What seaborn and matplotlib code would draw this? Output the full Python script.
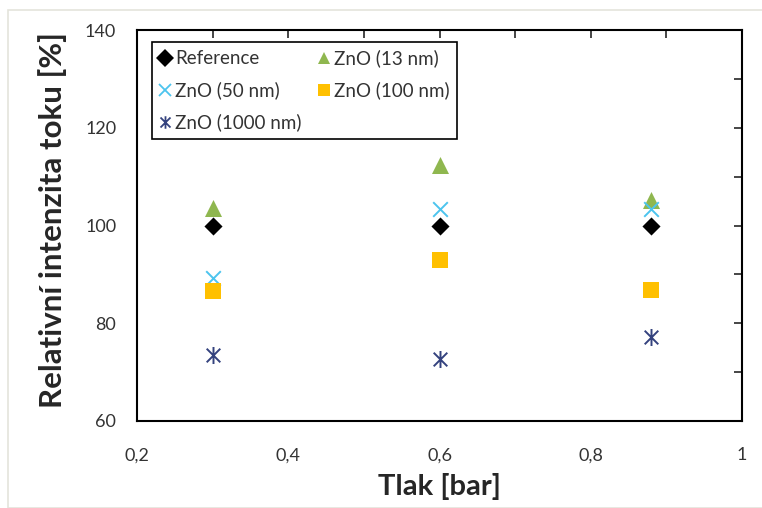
import pandas as pd
import seaborn as sns
import matplotlib.pyplot as plt
from matplotlib.path import Path
from matplotlib.patches import Rectangle

# data
tlak = [0.3, 0.6, 0.88]
reference = [100, 100, 100]
zno_13 = [103.6, 112.4, 105.3]
zno_50 = [89.2, 103.3, 103.4]
zno_100 = [86.6, 92.9, 86.8]
zno_1000 = [73.5, 72.6, 77.2]

series = ['Reference', 'ZnO (13 nm)', 'ZnO (50 nm)', 'ZnO (100 nm)', 'ZnO (1000 nm)']
values = [reference, zno_13, zno_50, zno_100, zno_1000]

df = pd.DataFrame({
    'Tlak': tlak * len(series),
    'Intenzita': [v for vals in values for v in vals],
    'Vzorek': [s for s in series for _ in tlak],
})

# Excel-like star marker: vertical line plus an X
star = Path([(0, -1), (0, 1), (-0.8, -0.8), (0.8, 0.8), (-0.8, 0.8), (0.8, -0.8)],
            [Path.MOVETO, Path.LINETO, Path.MOVETO, Path.LINETO, Path.MOVETO, Path.LINETO])

colors = {'Reference': 'black', 'ZnO (13 nm)': '#8fb74f', 'ZnO (50 nm)': '#4cc4ee',
          'ZnO (100 nm)': '#ffc000', 'ZnO (1000 nm)': '#34427e'}
markers = {'Reference': 'D', 'ZnO (13 nm)': '^', 'ZnO (50 nm)': 'x',
           'ZnO (100 nm)': 's', 'ZnO (1000 nm)': star}
sizes = {'Reference': 85, 'ZnO (13 nm)': 150, 'ZnO (50 nm)': 110,
         'ZnO (100 nm)': 130, 'ZnO (1000 nm)': 150}
filled = {'Reference': True, 'ZnO (13 nm)': True, 'ZnO (50 nm)': False,
          'ZnO (100 nm)': True, 'ZnO (1000 nm)': False}

sns.set_style('white')
plt.rcParams['font.family'] = ['Lato', 'DejaVu Sans']

fig = plt.figure(figsize=(7.62, 5.08), dpi=100)
ax = fig.add_axes([0.1798, 0.1713, 0.794, 0.7696])

# light outer frame like the source image
fig.patches.append(Rectangle((8 / 762, 0.0), 1.0, 1 - 10 / 508, transform=fig.transFigure,
                             fill=False, edgecolor='#e4e4dc', linewidth=1.2))

for name in series:
    sub = df[df['Vzorek'] == name]
    if filled[name]:
        sns.scatterplot(data=sub, x='Tlak', y='Intenzita', marker=markers[name],
                        color=colors[name], s=sizes[name], linewidth=0, ax=ax, zorder=3)
    else:
        sns.scatterplot(data=sub, x='Tlak', y='Intenzita', marker=markers[name],
                        color=colors[name], edgecolor=colors[name], s=sizes[name],
                        linewidth=1.4, ax=ax, zorder=3)

ax.set_xlim(0.2, 1.0)
ax.set_ylim(60, 140)
ax.set_xticks([0.2, 0.4, 0.6, 0.8, 1.0])
ax.set_xticklabels(['0,2', '0,4', '0,6', '0,8', '1'])
ax.set_xticks([0.3, 0.5, 0.7, 0.9], minor=True)
ax.set_yticks([60, 80, 100, 120, 140])
ax.set_yticks([70, 90, 110, 130], minor=True)

ax.tick_params(which='both', direction='in', top=True, right=True, length=6, width=1.2,
               labelsize=13, labelcolor='#333333')
ax.tick_params(axis='x', which='both', pad=19)
ax.tick_params(axis='y', which='both', pad=15)
for sp in ax.spines.values():
    sp.set_color('black')
    sp.set_linewidth(1.5)

ax.set_xlabel('Tlak [bar]', fontsize=21, fontweight='bold', labelpad=7)
ax.set_ylabel('Relativní intenzita toku [%]', fontsize=22.5, fontweight='bold', labelpad=13)
ax.yaxis.label.set_y(0.515)

# legend: rows filled column-wise -> order handles accordingly
order = ['Reference', 'ZnO (50 nm)', 'ZnO (1000 nm)', 'ZnO (13 nm)', 'ZnO (100 nm)']
handles = [plt.Line2D([], [], linestyle='', marker=markers[n], color=colors[n],
                      markerfacecolor=colors[n], markeredgecolor=colors[n],
                      markersize=9, markeredgewidth=1.3 if not filled[n] else 0)
           for n in order]
leg = ax.legend(handles, order, ncol=2, loc='upper left', bbox_to_anchor=(0.024, 0.97),
                borderaxespad=0, fontsize=13.5, frameon=True, fancybox=False,
                edgecolor='black', framealpha=1, handlelength=0.6, handletextpad=0.25,
                labelspacing=0.75, columnspacing=0.9, borderpad=0.4)
leg.get_frame().set_linewidth(1.2)
for t in leg.get_texts():
    t.set_color('#333333')

fig.savefig('out.png', dpi=100)
